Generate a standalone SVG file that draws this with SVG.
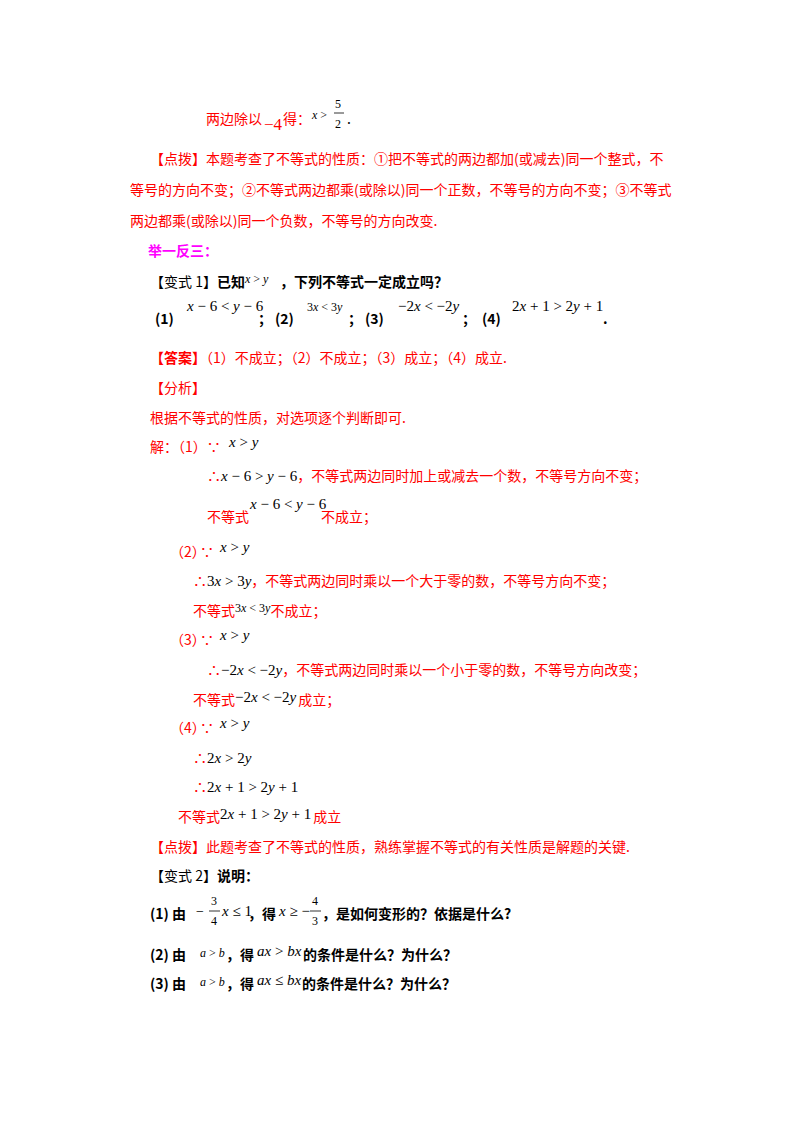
<svg xmlns="http://www.w3.org/2000/svg" width="800" height="1132" viewBox="0 0 800 1132">
<style>
text{font-family:"Noto Sans CJK SC","Liberation Serif",sans-serif;font-size:14px}
.r{fill:#ff0000}
.k{fill:#000}
.b{font-weight:bold}
.m{font-family:"Liberation Serif",serif;font-style:italic;font-size:15px}
.n{font-family:"Liberation Serif",serif;font-style:normal}
.s{font-size:12px}
.p{fill:#ff00ff;font-weight:bold}
</style>
<rect width="800" height="1132" fill="#fff"/>
<g class="r">
<text x="206" y="124" class="r">两边除以</text>
<text x="264" y="130" class="r m"><tspan class="n" font-size="17">−4</tspan></text>
<text x="283" y="124" class="r">得：</text>
<text x="312" y="119" class="k m s">x <tspan class="n">&gt;</tspan></text>
<text x="335" y="108" class="k m s"><tspan class="n">5</tspan></text>
<line x1="334" y1="113" x2="344" y2="113" stroke="#000" stroke-width="0.8"/>
<text x="335" y="128" class="k m s"><tspan class="n">2</tspan></text>
<text x="347" y="124" class="k">.</text>
<text x="150" y="164" class="r">【点拨】本题考查了不等式的性质：①把不等式的两边都加(或减去)同一个整式，不</text>
<text x="130" y="195" class="r">等号的方向不变；②不等式两边都乘(或除以)同一个正数，不等号的方向不变；③不等式</text>
<text x="130" y="226" class="r">两边都乘(或除以)同一个负数，不等号的方向改变.</text>
</g>
<text x="148" y="256" class="p">举一反三：</text>
<g class="k">
<text x="150" y="287">【变式 1】<tspan class="b">已知</tspan></text>
<text x="245" y="283" class="m s">x <tspan class="n">&gt;</tspan> y</text>
<text x="280" y="287" class="b">，下列不等式一定成立吗？</text>
<text x="155" y="324" class="b">(1)</text>
<text x="187" y="311" class="m" font-size="14">x <tspan class="n">− 6 &lt;</tspan> y <tspan class="n">− 6</tspan></text>
<text x="258" y="324" class="b">；</text>
<text x="275" y="324" class="b">(2)</text>
<text x="307" y="311" class="m s"><tspan class="n">3</tspan>x <tspan class="n">&lt; 3</tspan>y</text>
<text x="348" y="324" class="b">；</text>
<text x="365" y="324" class="b">(3)</text>
<text x="398" y="311" class="m" font-size="14"><tspan class="n">−2</tspan>x <tspan class="n">&lt; −2</tspan>y</text>
<text x="462" y="324" class="b">；</text>
<text x="482" y="324" class="b">(4)</text>
<text x="512" y="311" class="m" font-size="14"><tspan class="n">2</tspan>x <tspan class="n">+ 1 &gt; 2</tspan>y <tspan class="n">+ 1</tspan></text>
<text x="603" y="324" class="b">.</text>
</g>
<g class="r">
<text x="150" y="363"><tspan class="b">【答案】</tspan>（1）不成立；（2）不成立；（3）成立；（4）成立.</text>
<text x="150" y="393">【分析】</text>
<text x="150" y="423">根据不等式的性质，对选项逐个判断即可.</text>
<text x="150" y="452">解：（1）∵</text>
<text x="229" y="447" class="k m">x <tspan class="n">&gt;</tspan> y</text>
<text x="207" y="481">∴<tspan class="k m">x <tspan class="n">− 6 &gt;</tspan> y <tspan class="n">− 6</tspan></tspan>，不等式两边同时加上或减去一个数，不等号方向不变；</text>
<text x="207" y="522">不等式</text>
<text x="250" y="509" class="k m" font-size="14">x <tspan class="n">− 6 &lt;</tspan> y <tspan class="n">− 6</tspan></text>
<text x="321" y="522">不成立；</text>
<text x="170" y="557">（2）</text>
<text x="200" y="557">∵</text>
<text x="220" y="552" class="k m">x <tspan class="n">&gt;</tspan> y</text>
<text x="193" y="586">∴<tspan class="k m"><tspan class="n">3</tspan>x <tspan class="n">&gt; 3</tspan>y</tspan>，不等式两边同时乘以一个大于零的数，不等号方向不变；</text>
<text x="193" y="616">不等式<tspan class="k m s" dy="-4"><tspan class="n">3</tspan>x <tspan class="n">&lt; 3</tspan>y</tspan><tspan dy="4">不成立；</tspan></text>
<text x="170" y="645">（3）</text>
<text x="200" y="645">∵</text>
<text x="220" y="640" class="k m">x <tspan class="n">&gt;</tspan> y</text>
<text x="207" y="675">∴<tspan class="k m"><tspan class="n">−2</tspan>x <tspan class="n">&lt; −2</tspan>y</tspan>，不等式两边同时乘以一个小于零的数，不等号方向改变；</text>
<text x="193" y="705">不等式<tspan class="k m" dy="-3"><tspan class="n">−2</tspan>x <tspan class="n">&lt; −2</tspan>y</tspan><tspan dy="3" dx="2">成立；</tspan></text>
<text x="170" y="733">（4）</text>
<text x="200" y="733">∵</text>
<text x="220" y="728" class="k m">x <tspan class="n">&gt;</tspan> y</text>
<text x="193" y="763">∴<tspan class="k m" font-size="16"><tspan class="n">2</tspan>x <tspan class="n">&gt; 2</tspan>y</tspan></text>
<text x="193" y="792">∴<tspan class="k m" font-size="16"><tspan class="n">2</tspan>x <tspan class="n">+ 1 &gt; 2</tspan>y <tspan class="n">+ 1</tspan></tspan></text>
<text x="178" y="822">不等式<tspan class="k m" font-size="16" dy="-3"><tspan class="n">2</tspan>x <tspan class="n">+ 1 &gt; 2</tspan>y <tspan class="n">+ 1</tspan></tspan><tspan dy="3" dx="2">成立</tspan></text>
<text x="150" y="852">【点拨】此题考查了不等式的性质，熟练掌握不等式的有关性质是解题的关键.</text>
</g>
<g class="k">
<text x="150" y="881">【变式 2】<tspan class="b">说明：</tspan></text>
<text x="150" y="919" class="b">(1) 由</text>
<text x="196" y="916" class="n">−</text>
<text x="211" y="905" class="n m s"><tspan class="n">3</tspan></text>
<line x1="209" y1="911" x2="220" y2="911" stroke="#000" stroke-width="0.8"/>
<text x="211" y="925" class="m s"><tspan class="n">4</tspan></text>
<text x="222" y="916" class="m">x <tspan class="n">≤ 1</tspan></text>
<text x="248" y="919" class="b">，得</text>
<text x="279" y="916" class="m">x <tspan class="n">≥ −</tspan></text>
<text x="312" y="905" class="m s"><tspan class="n">4</tspan></text>
<line x1="310" y1="911" x2="321" y2="911" stroke="#000" stroke-width="0.8"/>
<text x="312" y="925" class="m s"><tspan class="n">3</tspan></text>
<text x="322" y="919" class="b">，是如何变形的？依据是什么?</text>
<text x="150" y="960" class="b">(2) 由</text>
<text x="200" y="957" class="m s">a <tspan class="n">&gt;</tspan> b</text>
<text x="226" y="960" class="b">，得</text>
<text x="257" y="956" class="m">ax <tspan class="n">&gt;</tspan> bx</text>
<text x="303" y="960" class="b">的条件是什么？为什么？</text>
<text x="150" y="989" class="b">(3) 由</text>
<text x="200" y="986" class="m s">a <tspan class="n">&gt;</tspan> b</text>
<text x="226" y="989" class="b">，得</text>
<text x="257" y="985" class="m">ax <tspan class="n">≤</tspan> bx</text>
<text x="302" y="989" class="b">的条件是什么？为什么？</text>
</g>
</svg>
